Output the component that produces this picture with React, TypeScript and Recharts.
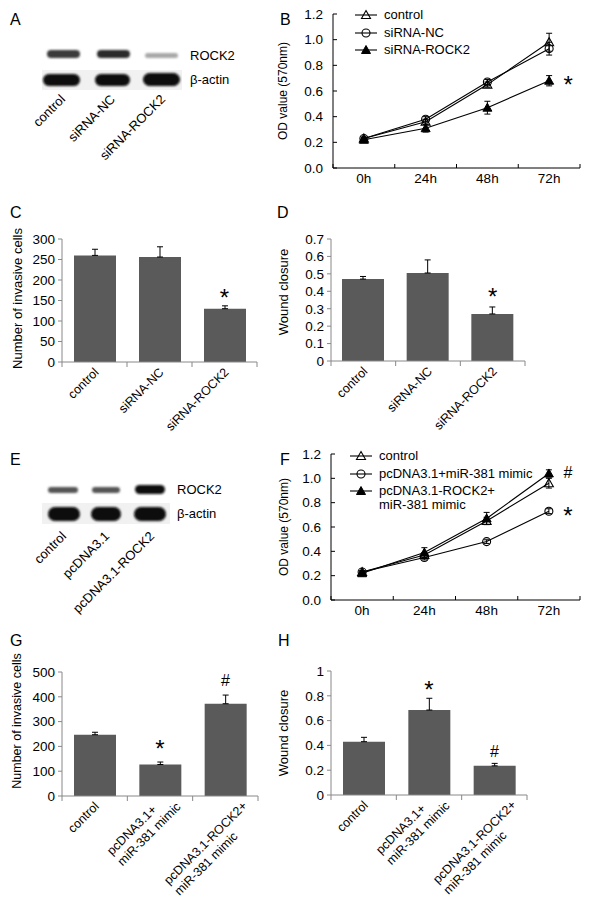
import React from 'react';
import { BarChart, Bar, LineChart, Line, XAxis, YAxis, ErrorBar, ReferenceDot, Legend, Label } from 'recharts';

const FONT = '"Liberation Sans", Arial, Helvetica, sans-serif';

// B: cell proliferation after ROCK2 knockdown (OD 570nm)
const timePoints = ['0h', '24h', '48h', '72h'];
const bControl = [0.23, 0.36, 0.65, 0.98];
const bControlErr = [0.01, 0.02, 0.02, 0.07];
const bNC = [0.23, 0.38, 0.67, 0.93];
const bNCErr = [0.01, 0.02, 0.02, 0.05];
const bRock2 = [0.22, 0.31, 0.47, 0.68];
const bRock2Err = [0.01, 0.03, 0.05, 0.04];

// F: proliferation, rescue experiment
const fControl = [0.23, 0.37, 0.65, 0.96];
const fControlErr = [0.01, 0.02, 0.03, 0.04];
const fMimic = [0.23, 0.35, 0.48, 0.73];
const fMimicErr = [0.01, 0.02, 0.015, 0.02];
const fRescue = [0.22, 0.39, 0.67, 1.04];
const fRescueErr = [0.01, 0.04, 0.05, 0.03];

const odTicks = [0, 0.2, 0.4, 0.6, 0.8, 1.0, 1.2];

// C / D: invasion and wound closure after knockdown
const knockCategories = ['control', 'siRNA-NC', 'siRNA-ROCK2'];
const cInvasive = [260, 256, 130];
const cInvasiveErr = [15, 25, 7];
const cTicks = [0, 50, 100, 150, 200, 250, 300];
const dWound = [0.47, 0.505, 0.27];
const dWoundErr = [0.015, 0.075, 0.04];
const dTicks = [0, 0.1, 0.2, 0.3, 0.4, 0.5, 0.6, 0.7];

// G / H: invasion and wound closure, rescue
const rescueCategories = ['control', 'pcDNA3.1+\nmiR-381 mimic', 'pcDNA3.1-ROCK2+\nmiR-381 mimic'];
const gInvasive = [247, 127, 372];
const gInvasiveErr = [10, 10, 35];
const gTicks = [0, 100, 200, 300, 400, 500];
const hWound = [0.43, 0.685, 0.235];
const hWoundErr = [0.035, 0.095, 0.02];
const hTicks = [0, 0.2, 0.4, 0.6, 0.8, 1];

// significance marks (category, value at symbol centre, symbol)
const bMarks = [{ at: '72h', y: 0.69, sym: '*' }];
const fMarks = [{ at: '72h', y: 1.05, sym: '#' }, { at: '72h', y: 0.74, sym: '*' }];
const cMarks = [{ at: 'siRNA-ROCK2', y: 171, sym: '*' }];
const dMarks = [{ at: 'siRNA-ROCK2', y: 0.4, sym: '*' }];
const gMarks = [{ at: rescueCategories[1], y: 214, sym: '*' }, { at: rescueCategories[2], y: 468, sym: '#' }];
const hMarks = [{ at: rescueCategories[1], y: 0.89, sym: '*' }, { at: rescueCategories[2], y: 0.35, sym: '#' }];

type Marker = 'triOpen' | 'circle' | 'triFilled';
type Series = { key: string; name: string; marker: Marker };

const bSeries: Series[] = [
  { key: 'control', name: 'control', marker: 'triOpen' },
  { key: 'nc', name: 'siRNA-NC', marker: 'circle' },
  { key: 'rock2', name: 'siRNA-ROCK2', marker: 'triFilled' },
];
const fSeries: Series[] = [
  { key: 'control', name: 'control', marker: 'triOpen' },
  { key: 'mimic', name: 'pcDNA3.1+miR-381 mimic', marker: 'circle' },
  { key: 'rescue', name: 'pcDNA3.1-ROCK2+\nmiR-381 mimic', marker: 'triFilled' },
];

const bData = timePoints.map((t, i) => ({
  time: t,
  control: bControl[i], controlErr: bControlErr[i],
  nc: bNC[i], ncErr: bNCErr[i],
  rock2: bRock2[i], rock2Err: bRock2Err[i],
}));
const fData = timePoints.map((t, i) => ({
  time: t,
  control: fControl[i], controlErr: fControlErr[i],
  mimic: fMimic[i], mimicErr: fMimicErr[i],
  rescue: fRescue[i], rescueErr: fRescueErr[i],
}));
const toBars = (cats: string[], vals: number[], errs: number[]) =>
  cats.map((c, i) => ({ name: c, value: vals[i], err: [0, errs[i]] }));

// rough Arial advance widths (em) to left-align rotated two-line labels
const charW = (ch: string) => {
  if ('il.,'.includes(ch)) return 0.24;
  if (ch === ' ') return 0.28;
  if ('-rft'.includes(ch)) return 0.32;
  if ('mw'.includes(ch)) return 0.83;
  if (ch === '+') return 0.58;
  if (/[A-Z]/.test(ch)) return 0.71;
  return 0.55;
};
const textLen = (s: string, fs: number) => s.split('').reduce((a, c) => a + charW(c), 0) * fs;

const drawMarker = (m: Marker, cx: number, cy: number, key?: any) => {
  if (cx == null || cy == null) return <g key={key} />;
  if (m === 'circle')
    return <circle key={key} cx={cx} cy={cy} r={4} fill="none" stroke="#000" strokeWidth={1.1} />;
  const d = `M${cx},${cy - 4.5} L${cx + 4.5},${cy + 3.5} L${cx - 4.5},${cy + 3.5} Z`;
  return m === 'triFilled'
    ? <path key={key} d={d} fill="#000" stroke="#000" strokeWidth={1} />
    : <path key={key} d={d} fill="none" stroke="#000" strokeWidth={1.1} />;
};

const axisTitle = (text: string, x: number, dy: number, fs: number) => (p: any) => {
  const vb = p.viewBox || {};
  const cy = (vb.y ?? 0) + (vb.height ?? 0) / 2 + dy;
  return (
    <text x={x} y={cy} transform={`rotate(-90 ${x} ${cy})`} textAnchor="middle" dominantBaseline="central"
      fontSize={fs} fontFamily={FONT} fill="#000">{text}</text>
  );
};

const markContent = (sym: string, dx: number) => (p: any) => {
  const vb = p.viewBox || {};
  const cx = (vb.x ?? 0) + (vb.width ?? 0) / 2 + dx;
  const cy = (vb.y ?? 0) + (vb.height ?? 0) / 2;
  const fs = sym === '*' ? 24 : 16;
  const base = cy + (sym === '*' ? 0.57 : 0.35) * fs;
  return <text x={cx} y={base} textAnchor="middle" fontSize={fs} fontFamily={FONT} fill="#000">{sym}</text>;
};

const timeTick = (half: number, count: number) => (p: any) => {
  const { x, y, payload, index } = p;
  return (
    <g>
      <line x1={x - half} x2={x - half} y1={y} y2={y - 4} stroke="#000" />
      {index === count - 1 && <line x1={x + half} x2={x + half} y1={y} y2={y - 4} stroke="#000" />}
      <text x={x} y={y + 15} textAnchor="middle" fontSize={13.5} fontFamily={FONT} fill="#000">{payload.value}</text>
    </g>
  );
};

const R = Math.SQRT1_2;

const catTick = (half: number, count: number) => (p: any) => {
  const { x, y, payload, index } = p;
  const lines = String(payload.value).split('\n');
  const fs = 12.5;
  let label;
  if (lines.length === 1) {
    const ax = x + 5;
    const ay = y + 11;
    label = (
      <text x={ax} y={ay} transform={`rotate(-45 ${ax} ${ay})`} textAnchor="end" fontSize={fs}
        fontFamily={FONT} fill="#000">{lines[0]}</text>
    );
  } else {
    // left-aligned block; the longest line ends right of the tick
    const lens = lines.map((l) => textLen(l, fs));
    const maxLen = Math.max(...lens);
    const li = lens.indexOf(maxLen);
    const ex = x + 22;
    const ey = y + 11;
    const sx = ex - maxLen * R - li * 15 * R;
    const sy = ey + maxLen * R - li * 15 * R;
    label = (
      <text x={sx} y={sy} transform={`rotate(-45 ${sx} ${sy})`} textAnchor="start" fontSize={fs}
        fontFamily={FONT} fill="#000">
        {lines.map((l, i) => <tspan key={i} x={sx} dy={i === 0 ? 0 : 15}>{l}</tspan>)}
      </text>
    );
  }
  return (
    <g>
      <line x1={x - half} x2={x - half} y1={y} y2={y + 5} stroke="#888" />
      {index === count - 1 && <line x1={x + half} x2={x + half} y1={y} y2={y + 5} stroke="#888" />}
      {label}
    </g>
  );
};

const legendFor = (series: Series[]) => (props: any) => {
  const items = props.payload || [];
  return (
    <div style={{ fontFamily: FONT, fontSize: 13, color: '#000' }}>
      {items.map((e: any, i: number) => {
        const s = series.find((q) => q.key === e.dataKey) || series[i];
        return (
          <div key={i} style={{ display: 'flex', alignItems: 'flex-start', lineHeight: '14px', marginBottom: 3.5 }}>
            <svg width={22} height={14} style={{ flex: 'none' }}>
              <line x1={0} x2={22} y1={7} y2={7} stroke="#000" strokeWidth={1.1} />
              {drawMarker(s.marker, 11, 7)}
            </svg>
            <span style={{ marginLeft: 7, whiteSpace: 'pre' }}>{e.value}</span>
          </div>
        );
      })}
    </div>
  );
};

type OdProps = {
  left: number; top: number; width: number; height: number; yw: number;
  mt: number; mr: number; xh: number; data: any[]; series: Series[];
  marks: { at: string; y: number; sym: string }[]; titleX: number; legend: { left: number; top: number };
};

function OdPanel(p: OdProps) {
  const plotW = p.width - p.yw - p.mr;
  const half = plotW / timePoints.length / 2;
  return (
    <div style={{ position: 'absolute', left: p.left, top: p.top }}>
      <LineChart width={p.width} height={p.height} data={p.data} margin={{ top: p.mt, right: p.mr, bottom: 0, left: 0 }}>
        <XAxis dataKey="time" scale="point" padding={{ left: half, right: half }} height={p.xh}
          axisLine={{ stroke: '#000' }} tickLine={false} tickSize={0} tickMargin={0} interval={0}
          tick={timeTick(half, timePoints.length)} />
        <YAxis width={p.yw} domain={[0, 1.2]} ticks={odTicks} interval={0} tickFormatter={(v: number) => v.toFixed(1)}
          axisLine={{ stroke: '#000' }} tickLine={{ stroke: '#000' }} tickSize={-4} tickMargin={14}
          tick={{ fill: '#000', fontSize: 13.5, fontFamily: FONT }}
          label={<Label content={axisTitle('OD value (570nm)', p.titleX, 0, 12)} />} />
        <Legend layout="vertical" align="center" verticalAlign="middle" content={legendFor(p.series)}
          wrapperStyle={{ left: p.legend.left, top: p.legend.top, width: 'auto', height: 'auto' }} />
        {p.series.map((s) => (
          <Line key={s.key} dataKey={s.key} name={s.name} stroke="#000" strokeWidth={1.1}
            dot={(d: any) => drawMarker(s.marker, d.cx, d.cy, d.index)} activeDot={false} isAnimationActive={false}>
            <ErrorBar dataKey={s.key + 'Err'} width={3} stroke="#000" strokeWidth={1} isAnimationActive={false} />
          </Line>
        ))}
        {p.marks.map((m, i) => (
          <ReferenceDot key={i} x={m.at} y={m.y} r={1} fill="none" stroke="none"
            label={<Label content={markContent(m.sym, 19)} />} />
        ))}
      </LineChart>
    </div>
  );
}

type BarProps = {
  left: number; top: number; width: number; height: number; yw: number;
  mt: number; mr: number; xh: number; data: any[]; max: number; ticks: number[];
  marks: { at: string; y: number; sym: string }[]; title: string; titleX: number; titleDy: number; titleFs: number;
};

function BarPanel(p: BarProps) {
  const plotW = p.width - p.yw - p.mr;
  const band = plotW / p.data.length;
  const half = band / 2;
  return (
    <div style={{ position: 'absolute', left: p.left, top: p.top }}>
      <BarChart width={p.width} height={p.height} data={p.data} barSize={Math.round(band * 0.65)}
        margin={{ top: p.mt, right: p.mr, bottom: 0, left: 0 }}>
        <XAxis dataKey="name" height={p.xh} axisLine={{ stroke: '#888' }} tickLine={false} tickSize={0}
          tickMargin={0} interval={0} tick={catTick(half, p.data.length)} />
        <YAxis width={p.yw} domain={[0, p.max]} ticks={p.ticks} interval={0} tickFormatter={(v: number) => String(v)}
          axisLine={{ stroke: '#888' }} tickLine={{ stroke: '#888' }} tickSize={4} tickMargin={3}
          tick={{ fill: '#000', fontSize: 13.5, fontFamily: FONT }}
          label={<Label content={axisTitle(p.title, p.titleX, p.titleDy, p.titleFs)} />} />
        <Bar dataKey="value" fill="#5a5a5a" isAnimationActive={false}>
          <ErrorBar dataKey="err" width={3} stroke="#000" strokeWidth={1} isAnimationActive={false} />
        </Bar>
        {p.marks.map((m, i) => (
          <ReferenceDot key={i} x={m.at} y={m.y} r={1} fill="none" stroke="none"
            label={<Label content={markContent(m.sym, 0)} />} />
        ))}
      </BarChart>
    </div>
  );
}

const Band = ({ x, y, w, h, c }: { x: number; y: number; w: number; h: number; c: string }) => (
  <rect x={x} y={y} width={w} height={h} rx={h / 2} fill={c} filter="url(#blotBlur)" />
);

function Overlay() {
  const letter = { fontSize: 16, fontFamily: FONT, fill: '#000' } as const;
  const lbl = { fontSize: 13, fontFamily: FONT, fill: '#000' } as const;
  const lane = (x: number, y: number, t: string) => (
    <text x={x} y={y} transform={`rotate(-45 ${x} ${y})`} textAnchor="end" {...lbl}>{t}</text>
  );
  return (
    <svg width={592} height={908} style={{ position: 'absolute', left: 0, top: 0 }}>
      <defs>
        <filter id="blotBlur" x="-20%" y="-50%" width="140%" height="200%">
          <feGaussianBlur stdDeviation="1.3" />
        </filter>
      </defs>
      <text x={10} y={25} {...letter}>A</text>
      <text x={280} y={25} {...letter}>B</text>
      <text x={10} y={218} {...letter}>C</text>
      <text x={277} y={218} {...letter}>D</text>
      <text x={10} y={465} {...letter}>E</text>
      <text x={280} y={465} {...letter}>F</text>
      <text x={10} y={646} {...letter}>G</text>
      <text x={278} y={646} {...letter}>H</text>

      {/* A blot */}
      <rect x={42} y={70} width={140} height={20} fill="#f1f1f1" />
      <Band x={47} y={50} w={33} h={8} c="#3a3a3a" />
      <Band x={97} y={50} w={33} h={8} c="#2c2c2c" />
      <Band x={145} y={53} w={33} h={5} c="#a8a8a8" />
      <Band x={43} y={74} w={37} h={12} c="#080808" />
      <Band x={95} y={74} w={35} h={12} c="#080808" />
      <Band x={143} y={73} w={37} h={13} c="#080808" />
      <text x={190} y={60} {...lbl}>ROCK2</text>
      <text x={190} y={84} {...lbl}>β-actin</text>
      {lane(66, 100, 'control')}
      {lane(116, 100, 'siRNA-NC')}
      {lane(166, 100, 'siRNA-ROCK2')}

      {/* E blot */}
      <rect x={42} y={503} width={128} height={21} fill="#f1f1f1" />
      <Band x={48} y={487} w={30} h={6} c="#555" />
      <Band x={92} y={487} w={28} h={6} c="#555" />
      <Band x={135} y={485} w={30} h={9} c="#111" />
      <Band x={48} y={507} w={32} h={14} c="#080808" />
      <Band x={91} y={507} w={30} h={14} c="#080808" />
      <Band x={134} y={507} w={32} h={14} c="#080808" />
      <text x={177} y={494} {...lbl}>ROCK2</text>
      <text x={177} y={518} {...lbl}>β-actin</text>
      {lane(67, 537, 'control')}
      {lane(110, 537, 'pcDNA3.1')}
      {lane(155, 537, 'pcDNA3.1-ROCK2')}
    </svg>
  );
}

export default function App() {
  return (
    <div style={{ position: 'absolute', left: 0, top: 0, width: 592, height: 908, background: '#fff', overflow: 'hidden', fontFamily: FONT }}>
      <Overlay />
      <OdPanel left={270} top={0} width={322} height={190} yw={63} mt={14} mr={12} xh={22}
        data={bData} series={bSeries} marks={bMarks} titleX={13} legend={{ left: 85, top: 8 }} />
      <BarPanel left={0} top={190} width={290} height={250} yw={62} mt={49} mr={33} xh={78}
        data={toBars(knockCategories, cInvasive, cInvasiveErr)} max={300} ticks={cTicks} marks={cMarks}
        title="Number of invasive cells" titleX={17} titleDy={-2} titleFs={13} />
      <BarPanel left={270} top={190} width={322} height={250} yw={61} mt={49} mr={67} xh={79}
        data={toBars(knockCategories, dWound, dWoundErr)} max={0.7} ticks={dTicks} marks={dMarks}
        title="Wound closure" titleX={13} titleDy={-8} titleFs={13} />
      <OdPanel left={270} top={440} width={322} height={190} yw={61} mt={14} mr={12} xh={30}
        data={fData} series={fSeries} marks={fMarks} titleX={14} legend={{ left: 80, top: 9 }} />
      <BarPanel left={0} top={640} width={290} height={268} yw={62} mt={32} mr={32} xh={112}
        data={toBars(rescueCategories, gInvasive, gInvasiveErr)} max={500} ticks={gTicks} marks={gMarks}
        title="Number of invasive cells" titleX={17} titleDy={-13} titleFs={12.5} />
      <BarPanel left={270} top={640} width={322} height={268} yw={61} mt={31} mr={65} xh={113}
        data={toBars(rescueCategories, hWound, hWoundErr)} max={1} ticks={hTicks} marks={hMarks}
        title="Wound closure" titleX={13} titleDy={0} titleFs={13} />
    </div>
  );
}
